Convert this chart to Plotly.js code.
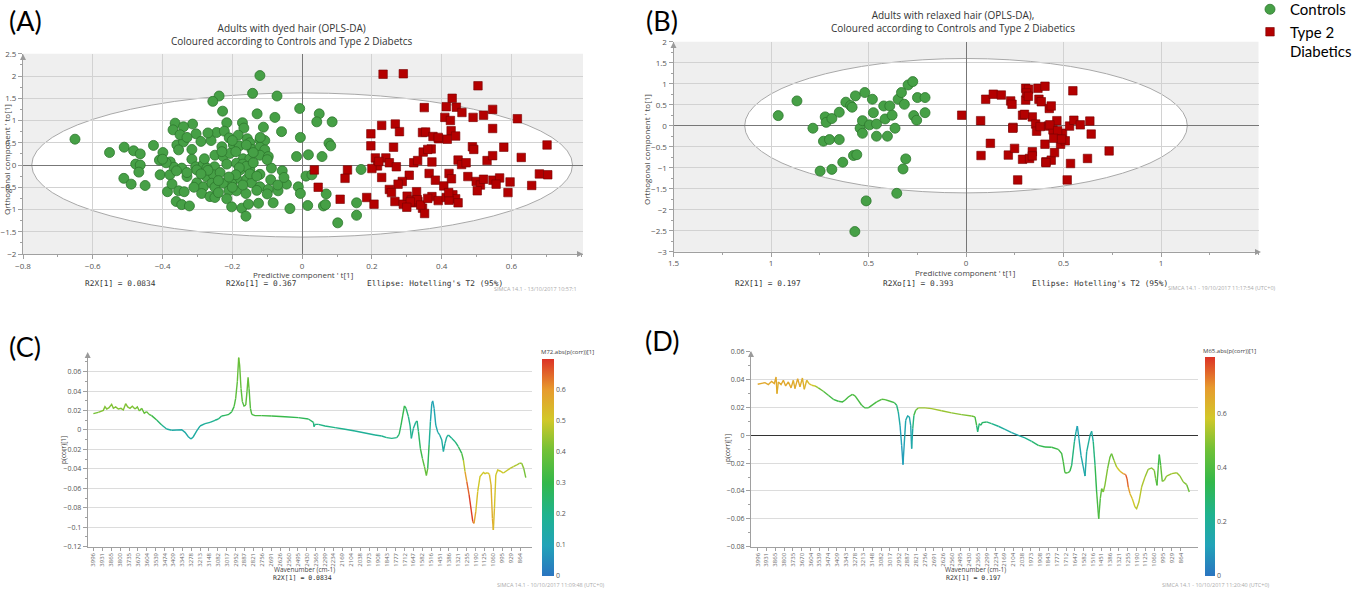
<!DOCTYPE html>
<html><head><meta charset="utf-8">
<script src="https://cdn.plot.ly/plotly-3.0.1.min.js"></script>
<style>html,body{margin:0;padding:0;background:#fff}#chart{width:1354px;height:590px}</style>
</head><body><div id="chart"></div>
<script>
// ---------- Panel A: Adults with dyed hair (OPLS-DA scores) ----------
const aCtrlX = [-0.121,-0.238,-0.256,-0.142,-0.072,-0.228,-0.129,-0.078,-0.007,-0.364,
 -0.314,-0.370,-0.340,-0.216,-0.171,-0.167,-0.111,-0.059,-0.005,-0.304,
 -0.290,-0.245,-0.223,-0.209,-0.183,-0.157,-0.150,-0.121,-0.107,-0.359,
 -0.340,-0.354,-0.316,-0.261,-0.230,-0.197,-0.180,-0.144,-0.121,-0.107,
 -0.552,-0.510,-0.483,-0.464,-0.426,-0.399,-0.409,-0.378,-0.316,-0.305,
 -0.283,-0.251,-0.250,-0.226,-0.207,-0.169,-0.150,-0.121,-0.097,-0.016,
 -0.651,-0.477,-0.464,-0.468,-0.407,-0.379,-0.367,-0.345,-0.330,-0.302,
 -0.273,-0.275,-0.254,-0.235,-0.216,-0.188,-0.178,-0.150,-0.121,-0.088,
 -0.057,-0.188,-0.202,-0.159,-0.145,-0.121,-0.097,-0.069,-0.045,-0.052,
 -0.011,-0.511,-0.490,-0.450,-0.386,-0.373,-0.354,-0.338,-0.302,-0.283,
 -0.259,-0.250,-0.226,-0.210,-0.188,-0.161,-0.288,-0.264,-0.250,-0.216,
 -0.202,-0.173,-0.154,-0.161,-0.125,-0.083,-0.035,-0.361,-0.345,-0.323,-0.005,
 -0.17,-0.16,-0.18,-0.14,-0.15,-0.13,-0.19,-0.21,-0.24,-0.17,-0.13,-0.20,-0.27,-0.29,-0.33,-0.36,-0.39,
 -0.40,-0.28,-0.23,-0.19,-0.14,-0.10,-0.12,-0.20,-0.16,-0.35,-0.33,-0.27,-0.31,-0.24,-0.09,-0.07,-0.10,
 0.049,0.042,0.086,0.077,0.082,0.018,0.057,0.169,0.011,0.028,0.069,0.016,0.061,0.067,0.156,0.102,0.156];
const aCtrlY = [2.01,1.55,1.43,1.61,1.55,1.21,1.15,1.07,1.27,0.94,
 0.92,0.79,0.86,0.95,0.95,0.83,0.85,0.75,0.62,0.70,
 0.53,0.73,0.76,0.61,0.67,0.59,0.50,0.56,0.55,0.45,
 0.52,0.34,0.35,0.55,0.41,0.45,0.43,0.35,0.40,0.34,
 0.28,0.40,0.32,0.25,0.44,0.28,0.11,0.07,0.13,-0.04,
 0.02,-0.04,0.22,0.19,0.26,0.14,0.14,0.22,0.19,0.19,
 0.58,0.02,0.00,-0.16,-0.22,-0.22,-0.05,-0.07,-0.26,-0.11,
 -0.07,-0.26,-0.22,-0.17,0.02,0.04,-0.11,-0.11,-0.21,-0.07,
 -0.13,-0.30,-0.41,-0.32,-0.40,-0.49,-0.55,-0.58,-0.43,-0.28,
 -0.49,-0.30,-0.43,-0.46,-0.60,-0.43,-0.58,-0.60,-0.40,-0.49,
 -0.41,-0.50,-0.41,-0.58,-0.58,-0.64,-0.64,-0.71,-0.73,-0.76,
 -0.94,-0.97,-0.88,-1.15,-0.86,-0.85,-0.98,-0.82,-0.89,-0.92,-0.64,
 0.02,-0.03,-0.06,0.05,-0.20,-0.25,-0.22,-0.27,-0.35,-0.45,-0.57,-0.50,-0.12,-0.20,-0.17,-0.13,0.05,
 0.13,0.14,0.30,0.30,0.28,0.12,0.62,0.55,0.45,0.68,0.62,0.72,-0.50,-0.62,-0.33,-0.45,-0.65,
 1.15,0.97,0.97,0.49,0.43,0.23,0.19,-0.10,-0.25,-0.22,-0.65,-0.91,-0.92,-0.89,-0.85,-1.30,-1.13];
const aT2dX = [0.232,0.290,0.504,0.430,0.350,0.413,0.442,0.458,0.490,0.520,
 0.546,0.617,0.409,0.425,0.546,0.427,0.228,0.267,0.279,0.197,
 0.345,0.354,0.375,0.391,0.416,0.488,0.492,0.578,0.702,0.197,
 0.262,0.347,0.370,0.210,0.240,0.250,0.270,0.216,0.200,0.320,
 0.331,0.372,0.447,0.457,0.530,0.546,0.628,0.035,0.130,0.123,
 0.228,0.307,0.287,0.275,0.364,0.382,0.406,0.421,0.428,0.475,
 0.499,0.511,0.502,0.547,0.566,0.556,0.596,0.658,0.680,0.704,
 0.590,0.046,0.109,0.185,0.206,0.250,0.256,0.266,0.290,0.301,
 0.313,0.328,0.323,0.332,0.345,0.351,0.372,0.390,0.413,0.432,
 0.440,0.447,0.421,
 0.33,0.31,0.34,0.36,0.42,0.30,0.39,0.44,0.36,0.22,0.47,0.52];
const aT2dY = [2.04,2.05,1.78,1.50,1.29,1.31,1.30,1.18,1.07,1.12,
 1.25,1.04,1.07,1.00,0.82,0.77,0.89,0.92,0.75,0.70,
 0.73,0.74,0.64,0.59,0.58,0.41,0.35,0.40,0.45,0.43,
 0.40,0.29,0.36,0.16,0.16,0.05,-0.04,-0.02,-0.08,0.05,
 0.10,0.07,0.11,0.01,0.10,0.21,0.17,-0.11,-0.11,-0.30,
 -0.28,-0.23,-0.37,-0.43,-0.19,-0.34,-0.47,-0.19,-0.31,-0.26,
 -0.37,-0.45,-0.58,-0.34,-0.29,-0.43,-0.38,-0.46,-0.20,-0.22,
 -0.62,-0.50,-0.77,-0.73,-0.88,-0.55,-0.62,-0.82,-0.88,-0.70,
 -0.79,-0.60,-0.85,-0.82,-0.97,-1.09,-0.71,-0.80,-0.73,-0.67,
 -0.76,-0.85,-0.79,
 -0.78,-0.83,-0.90,-0.75,-0.62,-0.95,0.62,0.65,0.35,0.08,0.05,-0.32];
const aEllipse = {a: 0.775, b: 1.62};   // Hotelling's T2 (95%) semi-axes
const aXTickVals = [-0.8,-0.6,-0.4,-0.2,0,0.2,0.4,0.6];

// ---------- Panel B: Adults with relaxed hair (OPLS-DA scores) ----------
const bCtrlX = [-0.963,-0.867,-0.785,-0.722,-0.717,-0.688,-0.650,-0.731,-0.700,-0.650,
 -0.748,-0.688,-0.632,-0.577,-0.560,-0.616,-0.592,-0.567,-0.519,-0.480,
 -0.584,-0.543,-0.531,-0.531,-0.495,-0.475,-0.459,-0.459,-0.422,-0.415,
 -0.403,-0.391,-0.379,-0.364,-0.348,-0.331,-0.316,-0.297,-0.273,-0.268,
 -0.253,-0.249,-0.210,-0.210,-0.309,-0.323,-0.355,-0.512,-0.570];
const bCtrlY = [0.24,0.59,-0.06,0.21,0.08,0.17,0.32,-0.37,-0.33,-0.33,
 -1.08,-1.04,-0.87,-0.71,-0.69,0.56,0.48,0.71,0.79,0.63,
 0.44,-0.06,0.12,-0.18,0.02,0.31,0.04,-0.25,0.47,0.16,
 -0.25,0.47,0.25,-0.06,0.63,0.79,0.51,0.97,1.05,0.24,
 0.13,0.67,0.67,0.31,-0.79,-1.03,-1.61,-1.79,-2.52];
const bT2dX = [-0.022,0.075,0.101,0.140,0.181,0.229,0.236,0.125,0.077,0.217,
 0.241,0.249,0.265,0.290,0.290,0.306,0.306,0.321,0.326,0.340,
 0.340,0.357,0.362,0.369,0.374,0.386,0.405,0.405,0.410,0.422,
 0.427,0.437,0.437,0.446,0.454,0.466,0.475,0.485,0.495,0.509,
 0.519,0.531,0.536,0.548,0.553,0.586,0.623,0.635,0.642,0.734,
 0.31,0.32,0.38,0.43,0.47,0.45,0.49,0.30,0.41,0.34,0.24];
const bT2dY = [0.25,0.12,0.63,0.75,0.73,0.59,0.51,-0.42,-0.71,-0.70,
 -0.04,-0.54,-1.29,0.25,-0.80,0.89,0.61,0.87,-0.78,0.21,
 -0.62,0.04,-0.13,0.89,0.63,0.57,0.94,-0.44,-0.86,-0.01,
 0.41,0.47,-0.82,-0.10,-0.64,0.12,-0.26,-0.44,-0.18,-0.36,
 -1.29,-0.01,-0.90,0.83,0.13,0.02,-0.78,0.11,-0.20,-0.60,
 0.78,0.70,-0.02,0.02,-0.12,-0.30,-0.32,0.27,-0.88,-0.72,-0.06];
const bEllipse = {a: 1.135, b: 1.60};
const bXTickVals = [-1.5,-1,-0.5,0,0.5,1];
const bXTickText = ['1.5','1','0.5','0','0.5','1'];

// ---------- Wavenumber tick labels (C and D) ----------
const waveTicks = [3996,3931,3865,3800,3735,3670,3604,3539,3474,3409,3343,3278,3213,3148,3082,3017,
 2952,2887,2821,2756,2691,2626,2560,2495,2430,2365,2299,2234,2169,2104,2038,1973,1908,1843,1777,
 1712,1647,1582,1516,1451,1386,1321,1255,1190,1125,1060,995,929,864];

// ---------- Panel C: loadings p(corr), dyed hair (M72) ----------
const cWave = [3997,3961,3924,3912,3899,3882,3863,3850,3833,3814,3794,3777,3760,3745,3728,3711,3691,3674,3659,3642,
 3623,3606,3588,3569,3532,3495,3459,3422,3385,3348,3324,3300,3280,3263,3238,3214,3177,3140,3104,3079,
 3055,3030,3001,2981,2964,2952,2940,2930,2923,2913,2903,2891,2878,2869,2861,2854,2844,2834,2810,2761,
 2688,2590,2492,2418,2381,2377,2369,2345,2296,2222,2149,2076,2002,1929,1880,1843,1806,1769,1752,1738,
 1725,1713,1701,1684,1672,1662,1647,1630,1620,1610,1596,1581,1566,1552,1542,1532,1522,1512,1505,1495,
 1483,1468,1454,1439,1427,1415,1402,1390,1366,1341,1317,1292,1280,1268,1255,1238,1224,1211,1202,1189,
 1175,1158,1133,1121,1104,1089,1077,1067,1060,1052,1042,1028,1011,986,962,937,913,888,869,852,837,822];
const cP = [0.0168,0.0182,0.0202,0.0240,0.0216,0.0230,0.0264,0.0223,0.0237,0.0216,0.0223,0.0206,0.0271,0.0237,0.0223,0.0244,0.0216,0.0237,0.0196,0.0223,
 0.0172,0.0189,0.0161,0.0148,0.0103,0.0051,0.0010,-0.0003,0.0000,0.0003,-0.0024,-0.0069,-0.0093,-0.0069,-0.0010,0.0041,0.0065,0.0079,0.0100,0.0113,
 0.0144,0.0151,0.0161,0.0189,0.0240,0.0326,0.0497,0.0745,0.0669,0.0429,0.0292,0.0247,0.0257,0.0395,0.0542,0.0429,0.0223,0.0161,0.0148,0.0148,
 0.0144,0.0137,0.0127,0.0113,0.0079,0.0034,0.0058,0.0058,0.0041,0.0024,0.0007,-0.0010,-0.0027,-0.0051,-0.0062,-0.0079,-0.0086,-0.0079,-0.0045,0.0051,
 0.0154,0.0247,0.0223,0.0137,0.0051,-0.0086,0.0017,0.0079,0.0093,-0.0017,-0.0189,-0.0292,-0.0377,-0.0470,-0.0395,-0.0154,0.0086,0.0274,0.0299,0.0223,
 0.0051,-0.0024,-0.0051,-0.0103,-0.0223,-0.0137,-0.0069,-0.0051,-0.0086,-0.0120,-0.0172,-0.0240,-0.0309,-0.0429,-0.0532,-0.0669,-0.0806,-0.0944,-0.0961,-0.0841,
 -0.0635,-0.0480,-0.0436,-0.0449,-0.0439,-0.0456,-0.0566,-0.0909,-0.1029,-0.0806,-0.0463,-0.0412,-0.0422,-0.0443,-0.0422,-0.0395,-0.0377,-0.0360,-0.0343,-0.0343,-0.0395,-0.0491];
const cAbs = [0.40,0.41,0.42,0.42,0.41,0.42,0.43,0.42,0.42,0.41,0.42,0.41,0.43,0.42,0.41,0.42,0.41,0.41,0.40,0.40,
 0.38,0.38,0.36,0.34,0.28,0.20,0.16,0.15,0.14,0.14,0.14,0.14,0.15,0.15,0.15,0.16,0.17,0.18,0.20,0.22,
 0.25,0.27,0.29,0.30,0.33,0.36,0.38,0.40,0.40,0.38,0.36,0.35,0.36,0.38,0.40,0.38,0.35,0.34,0.34,0.33,
 0.32,0.30,0.29,0.28,0.24,0.20,0.22,0.22,0.21,0.20,0.19,0.18,0.18,0.18,0.19,0.20,0.21,0.22,0.25,0.28,
 0.30,0.30,0.28,0.22,0.20,0.20,0.18,0.18,0.20,0.24,0.30,0.34,0.38,0.40,0.36,0.20,0.14,0.10,0.10,0.11,
 0.12,0.14,0.15,0.15,0.15,0.16,0.17,0.18,0.20,0.22,0.25,0.30,0.40,0.55,0.62,0.68,0.70,0.68,0.62,0.55,
 0.50,0.50,0.50,0.50,0.50,0.52,0.55,0.58,0.56,0.52,0.50,0.50,0.50,0.50,0.49,0.48,0.47,0.46,0.45,0.44,0.42,0.40];
const cMax = 0.7;
const cBarTicks = [0,0.1,0.2,0.3,0.4,0.5,0.6];

// ---------- Panel D: loadings p(corr), relaxed hair (M65) ----------
const dWave = [3996,3967,3942,3917,3893,3873,3860,3853,3843,3823,3806,3789,3769,3749,3732,3720,3700,3683,3665,3651,
 3633,3616,3596,3572,3547,3510,3473,3436,3399,3369,3350,3325,3295,3275,3251,3226,3202,3177,3152,3115,
 3078,3053,3016,2984,2967,2955,2942,2930,2920,2910,2900,2886,2873,2863,2856,2848,2839,2826,2807,2757,
 2708,2634,2560,2486,2412,2387,2375,2367,2355,2343,2333,2301,2264,2214,2165,2115,2066,2017,1967,1918,
 1869,1819,1770,1745,1733,1721,1703,1684,1671,1651,1639,1629,1617,1602,1585,1572,1560,1548,1535,1523,
 1511,1498,1486,1471,1459,1449,1437,1425,1405,1387,1375,1358,1338,1313,1289,1271,1261,1252,1239,1222,
 1202,1190,1173,1153,1128,1104,1079,1059,1049,1039,1029,1022,1012,1000,985,968,930,893,869,844,819,800];
const dP = [0.0367,0.0374,0.0379,0.0365,0.0388,0.0372,0.0420,0.0300,0.0384,0.0365,0.0396,0.0355,0.0384,0.0341,0.0396,0.0336,0.0408,0.0348,0.0412,0.0331,
 0.0396,0.0372,0.0360,0.0355,0.0341,0.0317,0.0288,0.0259,0.0245,0.0240,0.0252,0.0276,0.0295,0.0283,0.0252,0.0216,0.0197,0.0197,0.0216,0.0240,
 0.0259,0.0257,0.0245,0.0235,0.0216,0.0168,0.0072,-0.0072,-0.0211,-0.0048,0.0108,0.0139,0.0132,0.0072,-0.0096,0.0048,0.0144,0.0180,0.0197,0.0197,
 0.0192,0.0177,0.0161,0.0149,0.0139,0.0132,0.0072,0.0024,0.0084,0.0072,0.0091,0.0096,0.0084,0.0065,0.0043,0.0019,0.0000,-0.0019,-0.0043,-0.0072,
 -0.0084,-0.0086,-0.0101,-0.0132,-0.0192,-0.0269,-0.0271,-0.0259,-0.0216,-0.0048,0.0024,0.0067,-0.0024,-0.0144,-0.0216,-0.0293,-0.0120,-0.0072,0.0000,0.0029,
 -0.0048,-0.0216,-0.0408,-0.0600,-0.0456,-0.0384,-0.0408,-0.0360,-0.0240,-0.0156,-0.0132,-0.0180,-0.0228,-0.0259,-0.0276,-0.0283,-0.0312,-0.0372,-0.0420,-0.0456,
 -0.0516,-0.0528,-0.0480,-0.0372,-0.0300,-0.0245,-0.0235,-0.0252,-0.0312,-0.0360,-0.0216,-0.0139,-0.0216,-0.0331,-0.0324,-0.0293,-0.0276,-0.0269,-0.0293,-0.0336,-0.0355,-0.0408];
const dAbs = [0.65,0.66,0.65,0.66,0.65,0.66,0.67,0.64,0.65,0.66,0.65,0.66,0.65,0.66,0.65,0.65,0.66,0.65,0.65,0.64,
 0.63,0.62,0.60,0.56,0.50,0.42,0.38,0.37,0.37,0.38,0.38,0.39,0.40,0.40,0.39,0.38,0.38,0.38,0.39,0.40,
 0.41,0.42,0.40,0.35,0.30,0.20,0.12,0.10,0.10,0.12,0.15,0.15,0.15,0.13,0.12,0.20,0.30,0.45,0.50,0.52,
 0.52,0.52,0.50,0.49,0.48,0.45,0.30,0.25,0.28,0.30,0.30,0.30,0.25,0.20,0.18,0.15,0.15,0.20,0.25,0.32,
 0.35,0.36,0.38,0.38,0.38,0.40,0.40,0.38,0.30,0.20,0.15,0.12,0.13,0.15,0.15,0.15,0.18,0.20,0.17,0.15,
 0.20,0.30,0.38,0.40,0.42,0.45,0.48,0.50,0.48,0.45,0.42,0.50,0.55,0.60,0.68,0.75,0.78,0.72,0.65,0.60,
 0.55,0.55,0.55,0.55,0.52,0.50,0.50,0.50,0.45,0.42,0.38,0.35,0.40,0.48,0.50,0.50,0.52,0.52,0.50,0.50,0.48,0.45];
const dMax = 0.81;
const dBarTicks = [0,0.2,0.4,0.6];

// ---------- styling / helpers ----------
const W = 1354, H = 590;
const px = v => v / W, py = v => 1 - v / H;
const specScale = [[0,'#2a74c0'],[0.14,'#22a3b8'],[0.28,'#1fb38f'],[0.43,'#33b84a'],[0.58,'#72c136'],[0.72,'#d2c829'],[0.86,'#e79a2e'],[1,'#dc3226']];
function hex2rgb(h){return [parseInt(h.slice(1,3),16),parseInt(h.slice(3,5),16),parseInt(h.slice(5,7),16)];}
function colorAt(t){
  t = Math.max(0, Math.min(1, t));
  for (let i = 0; i < specScale.length - 1; i++) {
    const [t0,c0] = specScale[i], [t1,c1] = specScale[i+1];
    if (t <= t1) {
      const f = (t - t0) / (t1 - t0), a = hex2rgb(c0), b = hex2rgb(c1);
      return 'rgb(' + a.map((v,k)=>Math.round(v + (b[k]-v)*f)).join(',') + ')';
    }
  }
  return specScale[specScale.length-1][1];
}
function segmentTraces(w, p, c, cmax, xa, ya){
  const out = []; let cur = null, curKey = null;
  for (let i = 0; i < w.length - 1; i++) {
    const key = Math.round(((c[i]+c[i+1])/2/cmax)*60)/60;
    if (cur && key === curKey) { cur.x.push(w[i+1]); cur.y.push(p[i+1]); }
    else {
      cur = {type:'scatter', mode:'lines', x:[w[i],w[i+1]], y:[p[i],p[i+1]], xaxis:xa, yaxis:ya,
             line:{color:colorAt(key), width:1.4}, hoverinfo:'skip', showlegend:false};
      curKey = key; out.push(cur);
    }
  }
  return out;
}
function barTrace(w, p, c, cmax, xa, ya, cb){
  return {type:'scatter', mode:'markers', x:w, y:p, xaxis:xa, yaxis:ya, hoverinfo:'skip', showlegend:false,
    marker:{size:2, opacity:0, color:c, cmin:0, cmax:cmax, colorscale:specScale, showscale:true, colorbar:cb}};
}

const ctrlMarker = {symbol:'circle', size:10, color:'#46a046', line:{color:'#2d772d', width:0.8}};
const t2dMarker = {symbol:'square', size:8.5, color:'#b40000', line:{color:'#760000', width:0.6}};
const tickFont = {family:'Open Sans, sans-serif', size:8, color:'#555'};
const smallFont = {family:'Open Sans, sans-serif', size:7, color:'#555'};

const traces = [
  {type:'scatter', mode:'markers', x:aCtrlX, y:aCtrlY, xaxis:'x', yaxis:'y', marker:ctrlMarker, name:'Controls', legendgroup:'c', hoverinfo:'skip'},
  {type:'scatter', mode:'markers', x:aT2dX, y:aT2dY, xaxis:'x', yaxis:'y', marker:t2dMarker, name:'Type 2<br>Diabetics', legendgroup:'t', hoverinfo:'skip'},
  {type:'scatter', mode:'markers', x:bCtrlX, y:bCtrlY, xaxis:'x2', yaxis:'y2', marker:ctrlMarker, name:'Controls', legendgroup:'c', showlegend:false, hoverinfo:'skip'},
  {type:'scatter', mode:'markers', x:bT2dX, y:bT2dY, xaxis:'x2', yaxis:'y2', marker:t2dMarker, name:'Type 2 Diabetics', legendgroup:'t', showlegend:false, hoverinfo:'skip'},
  ...segmentTraces(cWave, cP, cAbs, cMax, 'x3', 'y3'),
  ...segmentTraces(dWave, dP, dAbs, dMax, 'x4', 'y4'),
  barTrace(cWave, cP, cAbs, cMax, 'x3', 'y3', {x:px(542), xanchor:'left', y:py(576), yanchor:'bottom', len:217/H, lenmode:'fraction',
     thickness:12, outlinewidth:0, xpad:0, ypad:0, tickvals:cBarTicks, ticks:'', tickfont:smallFont}),
  barTrace(dWave, dP, dAbs, dMax, 'x4', 'y4', {x:px(1205), xanchor:'left', y:py(576), yanchor:'bottom', len:219/H, lenmode:'fraction',
     thickness:10, outlinewidth:0, xpad:0, ypad:0, tickvals:dBarTicks, ticks:'', tickfont:smallFont})
];

const scoreAxis = {showgrid:true, gridcolor:'#d2d2d2', gridwidth:1, zeroline:true, zerolinecolor:'#777', zerolinewidth:1,
  showline:true, linecolor:'#a0a0a0', ticks:'outside', ticklen:4, tickcolor:'#a0a0a0', tickfont:tickFont, fixedrange:true};
const specXAxis = {type:'linear', tickmode:'array', tickvals:waveTicks, ticktext:waveTicks.map(String), tickangle:-90,
  tickfont:{family:'Open Sans, sans-serif', size:6, color:'#666'}, showgrid:false, zeroline:false, showline:true,
  linecolor:'#a0a0a0', ticks:'outside', ticklen:3, tickcolor:'#a0a0a0'};
const specYAxis = {dtick:0.02, showgrid:true, gridcolor:'#dcdcdc', showline:true, linecolor:'#a0a0a0', ticks:'outside',
  ticklen:4, tickcolor:'#a0a0a0', tickfont:smallFont, minor:{ticks:'outside', dtick:0.01, ticklen:2, tickcolor:'#a0a0a0', showgrid:false}};

function arrow(x, y, dir){
  const s = 3, l = 6;
  let d;
  if (dir === 'up') d = `M ${px(x-s)} ${py(y+l)} L ${px(x)} ${py(y)} L ${px(x+s)} ${py(y+l)} Z`;
  else d = `M ${px(x-l)} ${py(y-s)} L ${px(x)} ${py(y)} L ${px(x-l)} ${py(y+s)} Z`;
  return {type:'path', xref:'paper', yref:'paper', path:d, fillcolor:'#9a9a9a', line:{width:0}, layer:'above'};
}

const shapes = [
  {type:'rect', xref:'x domain', yref:'y domain', x0:0, x1:1, y0:0, y1:1, fillcolor:'#efefef', line:{width:0}, layer:'below'},
  {type:'circle', xref:'x', yref:'y', x0:-aEllipse.a, x1:aEllipse.a, y0:-aEllipse.b, y1:aEllipse.b, fillcolor:'#ffffff', line:{color:'#a8a8a8', width:1}, layer:'below'},
  {type:'rect', xref:'x2 domain', yref:'y2 domain', x0:0, x1:1, y0:0, y1:1, fillcolor:'#efefef', line:{width:0}, layer:'below'},
  {type:'circle', xref:'x2', yref:'y2', x0:-bEllipse.a, x1:bEllipse.a, y0:-bEllipse.b, y1:bEllipse.b, fillcolor:'#ffffff', line:{color:'#a8a8a8', width:1}, layer:'below'},
  arrow(583, 254, 'right'), arrow(23, 54, 'up'),
  arrow(1261, 252, 'right'), arrow(673.5, 42, 'up'),
  arrow(87.7, 352, 'up'), arrow(751, 351, 'up')
];

const mono = {family:'DejaVu Sans Mono, Liberation Mono, monospace', size:7.8, color:'#333'};
const stamp = {family:'Open Sans, sans-serif', size:5.5, color:'#aaa'};
function ann(text, x, y, font, xanchor, extra){
  return Object.assign({text:text, xref:'paper', yref:'paper', x:px(x), y:py(y), xanchor:xanchor||'center', yanchor:'middle',
    showarrow:false, font:font}, extra||{});
}
const titleFont = {family:'Open Sans, sans-serif', size:10, color:'#333'};
const axTitleFont = {family:'Open Sans, sans-serif', size:8, color:'#444'};
const panelFont = {family:'Lato, sans-serif', size:27, color:'#000'};
const annotations = [
  ann('(A)', 7, 20, panelFont, 'left'),
  ann('(B)', 644, 20, panelFont, 'left'),
  ann('(C)', 7, 346, panelFont, 'left'),
  ann('(D)', 643, 340, panelFont, 'left'),
  ann('Adults with dyed hair (OPLS-DA)<br>Coloured according to Controls and Type 2 Diabetcs', 292, 35, titleFont),
  ann('Adults with relaxed hair (OPLS-DA),<br>Coloured according to Controls and Type 2 Diabetics', 953, 22, titleFont),
  ann("Predictive component ' t[1]", 303, 274, axTitleFont),
  ann("Predictive component ' t[1]", 965, 273, axTitleFont),
  ann("Orthogonal component ' to[1]", 7, 160, axTitleFont, 'center', {textangle:-90}),
  ann("Orthogonal component ' to[1]", 646, 150, axTitleFont, 'center', {textangle:-90}),
  ann('R2X[1] = 0.0834', 83, 283, mono, 'left'),
  ann('R2Xo[1] = 0.367', 224, 283, mono, 'left'),
  ann("Ellipse: Hotelling's T2 (95%)", 365, 283, mono, 'left'),
  ann('R2X[1] = 0.197', 733, 283, mono, 'left'),
  ann('R2Xo[1] = 0.393', 881, 283, mono, 'left'),
  ann("Ellipse: Hotelling's T2 (95%)", 1030, 283, mono, 'left'),
  ann('SIMCA 14.1 - 13/10/2017 10:57:1', 492, 289, stamp, 'left'),
  ann('SIMCA 14.1 - 19/10/2017 11:17:54 (UTC+0)', 1166, 288, stamp, 'left'),
  ann('SIMCA 14.1 - 10/10/2017 11:09:48 (UTC+0)', 495, 585, stamp, 'left'),
  ann('SIMCA 14.1 - 10/10/2017 11:20:40 (UTC+0)', 1160, 585, stamp, 'left'),
  ann('Wavenumber (cm-1)', 304, 569, {family:'Open Sans, sans-serif', size:6.5, color:'#444'}),
  ann('R2X[1] = 0.0834', 302, 578, {family:'DejaVu Sans Mono, monospace', size:6.5, color:'#333'}),
  ann('Wavenumber (cm-1)', 975, 569, {family:'Open Sans, sans-serif', size:6.5, color:'#444'}),
  ann('R2X[1] = 0.197', 973, 578, {family:'DejaVu Sans Mono, monospace', size:6.5, color:'#333'}),
  ann('p(corr)[1]', 63, 450, {family:'Open Sans, sans-serif', size:6.5, color:'#444'}, 'center', {textangle:-90}),
  ann('p(corr)[1]', 727, 448, {family:'Open Sans, sans-serif', size:6.5, color:'#444'}, 'center', {textangle:-90}),
  ann('M72.abs(p(corr))[1]', 539, 352, {family:'Open Sans, sans-serif', size:6, color:'#444'}, 'left'),
  ann('M65.abs(p(corr))[1]', 1201, 351, {family:'Open Sans, sans-serif', size:6, color:'#444'}, 'left')
];

const layout = {
  width: W, height: H, margin:{l:0, r:0, t:0, b:0, autoexpand:false},
  paper_bgcolor:'#ffffff', plot_bgcolor:'rgba(0,0,0,0)', hovermode:false, showlegend:true,
  legend:{x:px(1250), y:py(-7), xanchor:'left', yanchor:'top', bgcolor:'rgba(255,255,255,0)', borderwidth:0,
    font:{family:'Lato, sans-serif', size:15, color:'#000'}, valign:'top', tracegroupgap:0, itemwidth:30},
  xaxis: Object.assign({}, scoreAxis, {domain:[px(23), px(583)], range:[-0.8, 0.805], tickmode:'array', tickvals:aXTickVals, anchor:'y',
    minor:{ticks:'outside', dtick:0.1, tick0:0, ticklen:2, tickcolor:'#a0a0a0', showgrid:false}}),
  yaxis: Object.assign({}, scoreAxis, {domain:[py(254), py(53.75)], range:[-2, 2.5], dtick:0.5, tick0:0, anchor:'x',
    minor:{ticks:'outside', dtick:0.25, ticklen:2, tickcolor:'#a0a0a0', showgrid:false}}),
  xaxis2: Object.assign({}, scoreAxis, {domain:[px(673.5), px(1258.5)], range:[-1.5, 1.5], tickmode:'array', tickvals:bXTickVals, ticktext:bXTickText, anchor:'y2',
    minor:{ticks:'outside', dtick:0.25, tick0:0, ticklen:2, tickcolor:'#a0a0a0', showgrid:false}}),
  yaxis2: Object.assign({}, scoreAxis, {domain:[py(251.7), py(41.7)], range:[-3, 2], dtick:0.5, tick0:0, anchor:'x2',
    minor:{ticks:'outside', dtick:0.25, ticklen:2, tickcolor:'#a0a0a0', showgrid:false}}),
  xaxis3: Object.assign({}, specXAxis, {domain:[px(87.7), px(531.7)], range:[4038.6, 778.5], anchor:'y3'}),
  yaxis3: Object.assign({}, specYAxis, {domain:[py(546.6), py(354.2)], range:[-0.12, 0.078], anchor:'x3', zeroline:false}),
  xaxis4: Object.assign({}, specXAxis, {domain:[px(751), px(1198)], range:[4045.6, 735.5], anchor:'y4'}),
  yaxis4: Object.assign({}, specYAxis, {domain:[py(546.5), py(351.9)], range:[-0.08, 0.06], anchor:'x4', zeroline:true, zerolinecolor:'#333', zerolinewidth:1.2}),
  shapes: shapes,
  annotations: annotations
};

Plotly.newPlot('chart', traces, layout, {staticPlot:true, displayModeBar:false});
</script>
</body></html>
